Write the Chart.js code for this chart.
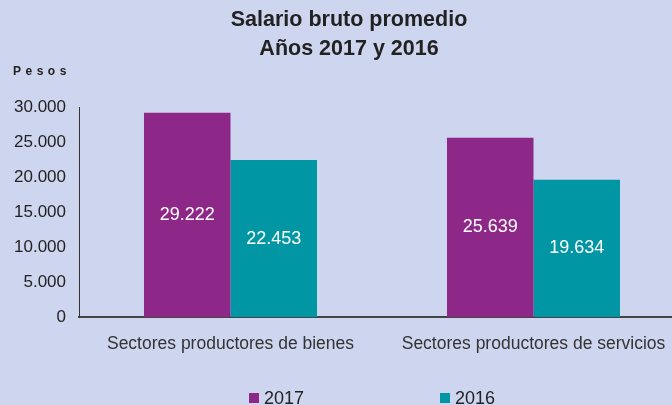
<!DOCTYPE html>
<html>
<head>
<meta charset="utf-8">
<script src="https://cdn.jsdelivr.net/npm/chart.js@4/dist/chart.umd.min.js"></script>
<style>
  html, body { margin: 0; padding: 0; background: #CDD6EE; overflow: hidden; }
  #wrap { width: 698px; height: 405px; }
</style>
</head>
<body>
<div id="wrap"><canvas id="chart"></canvas></div>
<script>
const categories = ["Sectores productores de bienes", "Sectores productores de servicios"];
const series2017 = [29222, 25639];
const series2016 = [22453, 19634];
const seriesNames = ["2017", "2016"];
const yTicks = [0, 5000, 10000, 15000, 20000, 25000, 30000];

const fmt = (v) => String(v).replace(/\B(?=(\d{3})+(?!\d))/g, ".");
const FONT = "'Liberation Sans', Arial, sans-serif";

// white value labels in the middle of each bar
const barLabels = {
  id: "barLabels",
  afterDatasetsDraw(chart) {
    const ctx = chart.ctx;
    ctx.save();
    ctx.fillStyle = "#FFFFFF";
    ctx.font = "18px " + FONT;
    ctx.textAlign = "center";
    ctx.textBaseline = "middle";
    chart.data.datasets.forEach((ds, i) => {
      chart.getDatasetMeta(i).data.forEach((bar, j) => {
        ctx.fillText(fmt(ds.data[j]), bar.x, (bar.y + bar.base) / 2);
      });
    });
    ctx.restore();
  }
};

// "Pesos" unit label and the wide-spaced legend at the bottom
const extras = {
  id: "extras",
  afterDraw(chart) {
    const ctx = chart.ctx;
    ctx.save();
    ctx.fillStyle = "#222222";
    ctx.font = "bold 12px " + FONT;
    ctx.letterSpacing = "4.5px";
    ctx.textBaseline = "middle";
    ctx.fillText("Pesos", 13, 72);
    ctx.letterSpacing = "0px";

    const legendX = [249, 440];
    const legendY = 398;
    ctx.font = "18px " + FONT;
    chart.data.datasets.forEach((ds, i) => {
      ctx.fillStyle = ds.backgroundColor;
      ctx.fillRect(legendX[i], legendY - 5, 10, 10);
      ctx.fillStyle = "#222222";
      ctx.fillText(ds.label, legendX[i] + 15, legendY + 1);
    });
    ctx.restore();
  }
};

new Chart(document.getElementById("chart"), {
  type: "bar",
  data: {
    labels: categories,
    datasets: [
      { label: seriesNames[0], data: series2017, backgroundColor: "#8E2888" },
      { label: seriesNames[1], data: series2016, backgroundColor: "#0096A4" }
    ]
  },
  options: {
    responsive: true,
    maintainAspectRatio: false,
    animation: false,
    categoryPercentage: 0.571,
    barPercentage: 1,
    layout: { padding: { left: 13, right: 13, top: 0, bottom: 33 } },
    plugins: {
      title: {
        display: true,
        text: ["Salario bruto promedio", "Años 2017 y 2016"],
        color: "#222222",
        font: { family: FONT, size: 21.5, weight: "bold", lineHeight: 1.38 },
        padding: { top: 5, bottom: 43 }
      },
      legend: { display: false },
      tooltip: { enabled: false }
    },
    scales: {
      x: {
        grid: { display: false, drawTicks: false },
        border: { display: true, color: "#444444", width: 2 },
        ticks: { color: "#333333", font: { family: FONT, size: 17.5 }, padding: 17 }
      },
      y: {
        min: 0,
        max: 30000,
        afterBuildTicks: (scale) => { scale.ticks = yTicks.map((v) => ({ value: v })); },
        afterFit: (scale) => { scale.width = 66; },
        grid: { display: false, drawTicks: false },
        border: { display: true, color: "#333333", width: 1 },
        ticks: {
          color: "#222222",
          font: { family: FONT, size: 17 },
          padding: 13,
          callback: (v) => fmt(v)
        }
      }
    }
  },
  plugins: [barLabels, extras]
});
</script>
</body>
</html>
